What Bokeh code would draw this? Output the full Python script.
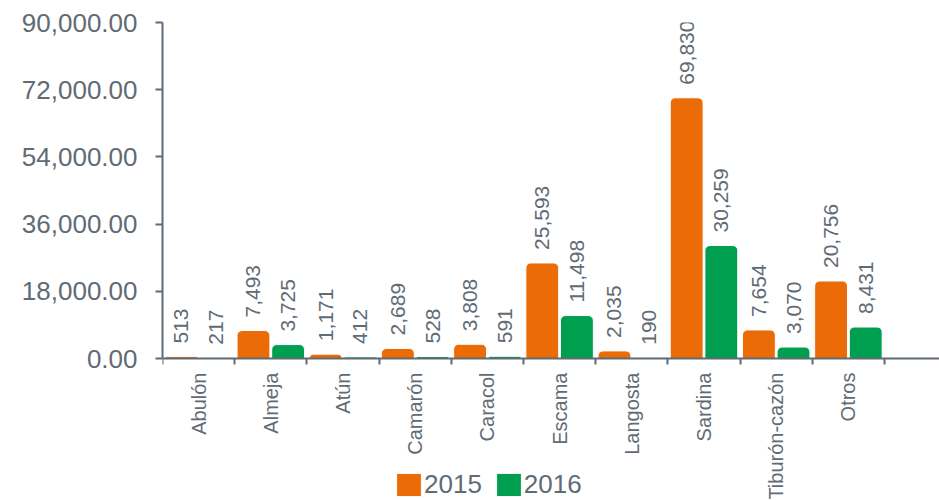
import math
from bokeh.plotting import figure
from bokeh.models import ColumnDataSource, Range1d, FixedTicker, Legend, LegendItem, NumeralTickFormatter
from bokeh.core.properties import value
from bokeh.embed import file_html
from bokeh.resources import INLINE

categories = ["Abulón", "Almeja", "Atún", "Camarón", "Caracol", "Escama",
              "Langosta", "Sardina", "Tiburón-cazón", "Otros"]
values_2015 = [513, 7493, 1171, 2689, 3808, 25593, 2035, 69830, 7654, 20756]
values_2016 = [217, 3725, 412, 528, 591, 11498, 190, 30259, 3070, 8431]
series_names = ["2015", "2016"]
y_ticks = [0, 18000, 36000, 54000, 72000, 90000]

ORANGE = "#EB6B06"
GREEN = "#009E4F"
GRAY = "#5F6B75"
FONT = "Liberation Sans"

W, H = 939, 500
LEFT, TOP = 162, 22          # frame left / top in px
ZERO_PX = 358                # pixel row of y = 0
CAT_PX = 72.2                # pixel width of one category
y_max = y_ticks[-1]
px_per_unit = (ZERO_PX - TOP) / y_max
y_min = -(H - ZERO_PX) / px_per_unit
x_max = (W - LEFT) / CAT_PX

n = len(categories)
centers = [i + 0.5 for i in range(n)]
x15 = [i + 0.26 for i in range(n)]
x16 = [i + 0.74 for i in range(n)]

src15 = ColumnDataSource(dict(x=x15, top=values_2015,
                              label=[f"{v:,}" for v in values_2015]))
src16 = ColumnDataSource(dict(x=x16, top=values_2016,
                              label=[f"{v:,}" for v in values_2016]))

p = figure(width=W, height=H, output_backend="svg", toolbar_location=None,
           x_range=Range1d(0, x_max), y_range=Range1d(y_min, y_max),
           min_border_left=LEFT, min_border_right=0, min_border_top=TOP,
           min_border_bottom=0)
p.outline_line_color = None
p.grid.visible = False
p.background_fill_color = "white"
p.border_fill_color = "white"

r15 = p.vbar(x="x", top="top", width=0.455, bottom=0, source=src15,
             fill_color=ORANGE, line_color="white", line_width=1,
             border_radius=(5, 5, 0, 0))
r16 = p.vbar(x="x", top="top", width=0.455, bottom=0, source=src16,
             fill_color=GREEN, line_color="white", line_width=1,
             border_radius=(5, 5, 0, 0))

for src in (src15, src16):
    p.text(x="x", y="top", text="label", source=src, angle=math.pi / 2,
           text_align="left", text_baseline="middle", y_offset=-13,
           text_font=value(FONT), text_font_size="21px", text_color=GRAY)

# y axis
p.yaxis.ticker = FixedTicker(ticks=y_ticks)
p.yaxis.bounds = (0, y_max)
p.yaxis.formatter = NumeralTickFormatter(format="0,0.00")
p.yaxis.major_label_text_font = FONT
p.yaxis.major_label_text_font_size = "26px"
p.yaxis.major_label_text_color = GRAY
p.yaxis.axis_line_color = GRAY
p.yaxis.axis_line_width = 2
p.yaxis.major_tick_line_color = GRAY
p.yaxis.major_tick_line_width = 2
p.yaxis.major_tick_out = 7
p.yaxis.major_tick_in = 0
p.yaxis.minor_tick_line_color = None
p.yaxis.major_label_standoff = 18

# x axis, drawn at y = 0
p.xaxis.fixed_location = 0
p.xaxis.ticker = FixedTicker(ticks=centers, minor_ticks=list(range(n + 1)))
p.xaxis.major_label_overrides = {c: lab for c, lab in zip(centers, categories)}
p.xaxis.major_label_orientation = math.pi / 2
p.xaxis.major_label_text_font = FONT
p.xaxis.major_label_text_font_size = "20px"
p.xaxis.major_label_text_color = GRAY
p.xaxis.major_label_standoff = 8
p.xaxis.axis_line_color = GRAY
p.xaxis.axis_line_width = 2
p.xaxis.major_tick_line_color = None
p.xaxis.minor_tick_line_color = GRAY
p.xaxis.minor_tick_line_width = 2
p.xaxis.minor_tick_out = 6
p.xaxis.minor_tick_in = 0

legend = Legend(items=[LegendItem(label=series_names[0], renderers=[r15]),
                       LegendItem(label=series_names[1], renderers=[r16])],
                location=(231, 0), orientation="horizontal",
                glyph_width=31, glyph_height=29, label_standoff=0, spacing=11,
                padding=0, margin=0, border_line_color=None,
                background_fill_alpha=0,
                label_text_font=FONT, label_text_font_size="26px",
                label_text_color=GRAY, label_height=29)
p.add_layout(legend)

open("out.html", "w").write(file_html(p, INLINE))
